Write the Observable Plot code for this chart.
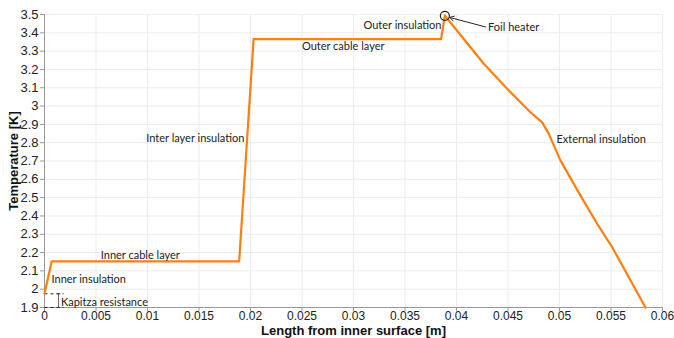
<!DOCTYPE html>
<html>
<head>
<meta charset="utf-8">
<script src="https://cdn.jsdelivr.net/npm/d3@7"></script>
<script src="https://cdn.jsdelivr.net/npm/@observablehq/plot@0.6"></script>
<style>
  html, body { margin: 0; padding: 0; background: #fff; }
  #chart svg { display: block; }
</style>
</head>
<body>
<div id="chart"></div>
<script>
// Temperature profile through the cable
const lengthM = [0, 0.0007, 0.0189, 0.0203, 0.0385, 0.03887, 0.03925, 0.04265, 0.04492, 0.04718, 0.04832, 0.04896, 0.0501, 0.05204, 0.05366, 0.05512, 0.05835];
const tempK   = [1.975, 2.152, 2.152, 3.365, 3.365, 3.495, 3.467, 3.231, 3.094, 2.966, 2.911, 2.848, 2.702, 2.511, 2.357, 2.229, 1.9];

const xTicks = [0, 0.005, 0.01, 0.015, 0.02, 0.025, 0.03, 0.035, 0.04, 0.045, 0.05, 0.055, 0.06];
const yTicks = [1.9, 2, 2.1, 2.2, 2.3, 2.4, 2.5, 2.6, 2.7, 2.8, 2.9, 3, 3.1, 3.2, 3.3, 3.4, 3.5];

// Annotation labels (anchored in data coordinates)
const labelText   = ["Inner insulation", "Inner cable layer", "Inter layer insulation", "Outer cable layer", "Outer insulation", "Foil heater", "External insulation", "Kapitza resistance"];
const labelX      = [0.00068, 0.0093, 0.0194, 0.029, 0.03854, 0.04307, 0.0497, 0.0016];
const labelY      = [2.052, 2.183, 2.822, 3.325, 3.44, 3.43, 2.815, 1.928];
const labelAnchor = ["start", "middle", "end", "middle", "end", "start", "start", "start"];

// Foil heater marker and arrow
const heaterX = 0.03887, heaterY = 3.493;
const arrowFrom = [0.04282, 3.432], arrowTo = [0.03934, 3.484];

// Kapitza resistance bracket
const kapitzaLevels = [1.975, 1.9];
const kapitzaXEnd = 0.00185;
const kapitzaBracketX = 0.00136;
const kapitzaCapHalf = 0.0002;

const profile = lengthM.map((x, i) => ({x, y: tempK[i]}));
const labels = labelText.map((t, i) => ({t, x: labelX[i], y: labelY[i], a: labelAnchor[i]}));
const fmt = d => String(+d.toFixed(4));

const annFont = "Lato, 'Noto Sans', sans-serif";
const textMarks = ["start", "middle", "end"].map(a =>
  Plot.text(labels.filter(d => d.a === a), {x: "x", y: "y", text: "t", textAnchor: a, fontSize: 11, fill: "#222", fontFamily: annFont}));

const kapLines = kapitzaLevels.map(y => ({x1: 0, x2: kapitzaXEnd, y}));
const kapCaps = kapitzaLevels.map(y => ({x1: kapitzaBracketX - kapitzaCapHalf, x2: kapitzaBracketX + kapitzaCapHalf, y}));

const chart = Plot.plot({
  width: 674,
  height: 338,
  marginLeft: 44,
  marginRight: 12,
  marginTop: 14,
  marginBottom: 31,
  style: {fontFamily: "'Liberation Sans', Arial, sans-serif", background: "#fff"},
  x: {type: "linear", domain: [0, 0.06]},
  y: {type: "linear", domain: [1.9, 3.5]},
  marks: [
    Plot.gridX(xTicks, {stroke: "#ececec", strokeOpacity: 1}),
    Plot.gridY(yTicks, {stroke: "#ececec", strokeOpacity: 1}),
    Plot.ruleX([0], {stroke: "#999"}),
    Plot.ruleY([1.9], {stroke: "#999"}),
    Plot.axisX(xTicks, {tickSize: 4, tickPadding: 0, fontSize: 12, fill: "#222", stroke: "#999", tickFormat: fmt,
      label: "Length from inner surface [m]", labelAnchor: "center", labelArrow: "none", labelOffset: 27}),
    Plot.axisY(yTicks, {tickSize: 4, tickPadding: 2, fontSize: 13, fill: "#222", stroke: "#999", tickFormat: fmt,
      label: "Temperature [K]", labelAnchor: "center", labelArrow: "none", labelOffset: 36}),
    // Kapitza bracket
    Plot.link(kapLines, {x1: "x1", x2: "x2", y1: "y", y2: "y", stroke: "#222", strokeDasharray: "3,3", strokeWidth: 1}),
    Plot.link([{x: kapitzaBracketX, y1: kapitzaLevels[1], y2: kapitzaLevels[0]}], {x1: "x", x2: "x", y1: "y1", y2: "y2", stroke: "#444", strokeWidth: 0.8}),
    Plot.link(kapCaps, {x1: "x1", x2: "x2", y1: "y", y2: "y", stroke: "#444", strokeWidth: 0.8}),
    // profile
    Plot.line(profile, {x: "x", y: "y", stroke: "#ff7f0e", strokeWidth: 2.2}),
    // foil heater
    Plot.dot([{x: heaterX, y: heaterY}], {x: "x", y: "y", r: 4.5, stroke: "#222", strokeWidth: 1.2, fill: "none"}),
    Plot.arrow([{x1: arrowFrom[0], y1: arrowFrom[1], x2: arrowTo[0], y2: arrowTo[1]}],
      {x1: "x1", y1: "y1", x2: "x2", y2: "y2", stroke: "#222", strokeWidth: 1, headLength: 7}),
    ...textMarks
  ]
});

// make axis labels bold
chart.querySelectorAll("[aria-label='x-axis label'], [aria-label='y-axis label']").forEach(g => {
  g.setAttribute("font-weight", "bold");
  g.setAttribute("font-size", "13");
  g.setAttribute("fill", "#111");
});

document.getElementById("chart").appendChild(chart);
</script>
</body>
</html>
